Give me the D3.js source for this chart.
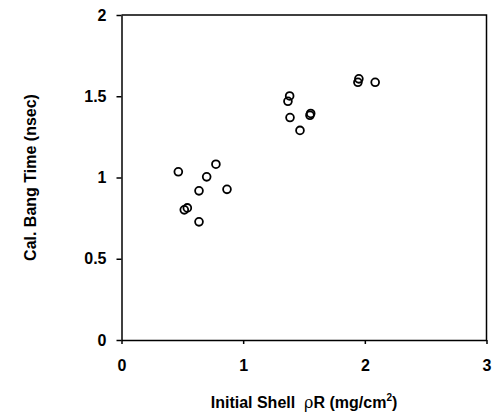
<!DOCTYPE html>
<html>
<head>
<meta charset="utf-8">
<script src="https://cdn.jsdelivr.net/npm/d3@7/dist/d3.min.js"></script>
<style>
  html, body { margin: 0; padding: 0; background: #fff; }
  svg { display: block; }
  .tick text { font-family: "Liberation Sans", Arial, sans-serif; font-weight: bold; font-size: 16px; fill: #000; }
  .title { font-family: "Liberation Sans", Arial, sans-serif; font-weight: bold; font-size: 16px; fill: #000; white-space: pre; }
</style>
</head>
<body>
<script>
// Initial shell areal density (mg/cm^2) vs. calculated bang time (nsec)
const shellRhoR = [0.467, 0.776, 0.700, 0.637, 0.867, 0.516, 0.541, 0.637,
                   1.951, 1.943, 2.085, 1.382, 1.368, 1.385, 1.549, 1.555, 1.467];
const bangTime  = [1.035, 1.082, 1.004, 0.918, 0.927, 0.801, 0.813, 0.727,
                   1.607, 1.586, 1.586, 1.502, 1.469, 1.369, 1.383, 1.394, 1.290];
const xTicks = [0, 1, 2, 3];
const yTicks = [0, 0.5, 1, 1.5, 2];

const W = 492, H = 414;
const margin = { left: 121.5, right: 5.5, top: 15, bottom: 74 };

const svg = d3.select("body").append("svg").attr("width", W).attr("height", H);

const x = d3.scaleLinear().domain([0, 3]).range([margin.left, W - margin.right]);
const y = d3.scaleLinear().domain([0, 2]).range([H - margin.bottom, margin.top]);

// frame: top and right edges
svg.append("path")
  .attr("d", `M${x(0)},${y(2)}H${x(3)}V${y(0)}`)
  .attr("fill", "none").attr("stroke", "#000").attr("stroke-width", 1.5);

const xAxis = svg.append("g")
  .attr("transform", `translate(0,${y(0)})`)
  .call(d3.axisBottom(x).tickValues(xTicks).tickFormat(d3.format("d")).tickSize(4).tickSizeOuter(0).tickPadding(16));
const yAxis = svg.append("g")
  .attr("transform", `translate(${x(0)},0)`)
  .call(d3.axisLeft(y).tickValues(yTicks).tickFormat(d => String(d)).tickSize(5).tickSizeOuter(0).tickPadding(10));

[xAxis, yAxis].forEach(g => {
  g.select(".domain").attr("stroke", "#000").attr("stroke-width", 1.5);
  g.selectAll(".tick line").attr("stroke", "#000").attr("stroke-width", 1.5);
  g.selectAll(".tick text").attr("font-family", null).attr("font-size", null);
});

// data points
svg.append("g").selectAll("circle")
  .data(shellRhoR.map((v, i) => [v, bangTime[i]]))
  .join("circle")
  .attr("cx", d => x(d[0]))
  .attr("cy", d => y(d[1]))
  .attr("r", 3.9)
  .attr("fill", "none")
  .attr("stroke", "#000")
  .attr("stroke-width", 1.8);

// axis titles
const xt = svg.append("text").attr("class", "title")
  .attr("x", (x(0) + x(3)) / 2).attr("y", 408).attr("text-anchor", "middle");
xt.append("tspan").text("Initial Shell\u00A0\u00A0");
xt.append("tspan").attr("font-family", "DejaVu Serif, serif").attr("font-weight", "normal").text("ρ");
xt.append("tspan").text("R (mg/cm");
xt.append("tspan").attr("font-size", "10px").attr("dy", -7).text("2");
xt.append("tspan").attr("dy", 7).text(")");

svg.append("text").attr("class", "title")
  .attr("transform", `translate(36,${(y(0) + y(2)) / 2}) rotate(-90)`)
  .attr("text-anchor", "middle")
  .text("Cal. Bang Time (nsec)");
</script>
</body>
</html>
